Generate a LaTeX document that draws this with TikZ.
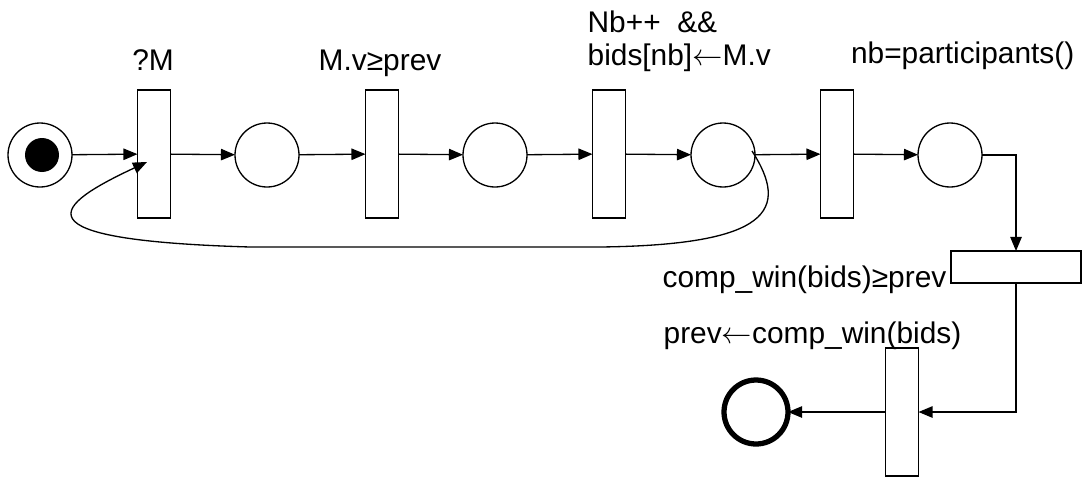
\documentclass[tikz,border=0pt]{standalone}
\usepackage{fontspec}
\setmainfont{Liberation Sans}
\usetikzlibrary{arrows.meta}

\begin{document}
\begin{tikzpicture}[
    x=0.02cm, y=-0.02cm,
    line width=0.75pt,
    >={Triangle[length=8pt, width=6.5pt]},
    place/.style={circle, draw, minimum size=1.28cm, inner sep=0pt, outer sep=0pt},
    token/.style={circle, fill=black, minimum size=0.68cm, inner sep=0pt},
    trans/.style={rectangle, draw, minimum width=0.66cm, minimum height=2.56cm, inner sep=0pt, outer sep=0pt},
    transh/.style={rectangle, draw, minimum width=2.6cm, minimum height=0.64cm, inner sep=0pt, outer sep=0pt},
    lbl/.style={font=\fontsize{17}{20}\selectfont, inner sep=0pt},
]
\useasboundingbox (0,0) rectangle (1091,477);

% Places along the top row
\node[place] (p0) at (40,155) {};
\node[token] (tok) at (42,155) {};
\node[place] (p1) at (267,155) {};
\node[place] (p2) at (495,155) {};
\node[place] (p3) at (723,155) {};
\node[place] (p4) at (950,155) {};

% Transitions along the top row
\node[trans] (t1) at (154,154) {};
\node[trans] (t2) at (382,154) {};
\node[trans] (t3) at (609,154) {};
\node[trans] (t4) at (837,154) {};

% Lower part
\node[transh] (t5) at (1016,267) {};
\node[trans] (t6) at (902,412) {};
\node[place, line width=3pt, minimum size=1.28cm] (pend) at (756,412) {};

% Labels
\node[lbl, anchor=base] (l1) at (153,70) {?M};
\node[lbl, anchor=base] (l2) at (380,70) {M.v≥prev};
\node[lbl, anchor=base west] (l3a) at (587,32) {Nb++~~\&\&};
\node[lbl, anchor=base west] (l3b) at (587,65) {bids[nb]$\leftarrow$M.v};
\node[lbl, anchor=base east] (l4) at (1075,63) {nb=participants()};
\node[lbl, anchor=base east] (l5) at (947,287) {comp\_win(bids)≥prev};
\node[lbl, anchor=base west] (l6) at (663,343) {prev$\leftarrow$comp\_win(bids)};

% Arcs of the top row
\draw[->] (p0) -- (t1);
\draw[->] (t1) -- (p1);
\draw[->] (p1) -- (t2);
\draw[->] (t2) -- (p2);
\draw[->] (p2) -- (t3);
\draw[->] (t3) -- (p3);
\draw[->] (p3) -- (t4);
\draw[->] (t4) -- (p4);

% Arcs down to the end place
\draw[->] (p4.east) -| (t5.north);
\draw[->] (t5.south) |- (t6.east);
\draw[->] (t6) -- (pend);

% Loop back from p3 to t1
\coordinate (loopstart) at (752,151);
\coordinate (loopend) at (147,162);
\draw[->] (loopstart) .. controls (790,210) and (770,245) .. (600,247)
    -- (250,247) .. controls (10,240) and (55,205) .. (loopend);

\end{tikzpicture}
\end{document}
